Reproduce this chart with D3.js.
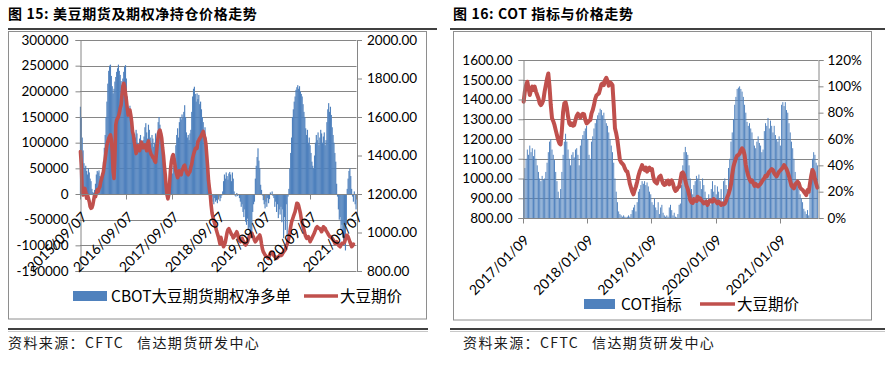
<!DOCTYPE html>
<html><head><meta charset="utf-8">
<script src="https://cdn.jsdelivr.net/npm/d3@7"></script>
<style>
body{margin:0;background:#fff;}
svg{display:block;}
</style></head>
<body>
<svg id="c" width="885" height="365"></svg>
<script>
// ---------------- DATA ----------------
// Chart 15 (left): weekly, from 2015/09/07
const leftTickLabels = ["2015/09/07","2016/09/07","2017/09/07","2018/09/07","2019/09/07","2020/09/07","2021/09/07"];
const leftNetLongK = [
170,150,110,85,60,50,55,45,38,50,42,30,25,
10,4,2,8,20,38,45,42,46,35,28,40,50,
63,90,115,150,180,215,240,250,252,230,210,196,205,
219,228,238,245,252,240,232,220,212,225,238,248,251,
225,190,168,150,172,160,130,120,105,95,110,125,118,
100,92,108,115,96,88,105,112,130,138,120,108,135,
125,110,98,115,108,92,100,118,104,120,140,150,135,
118,110,95,88,76,50,35,20,12,18,30,55,62,
40,55,48,70,95,115,128,110,
140,150,145,155,148,160,173,150,120,110,115,105,118,125,
160,190,205,209,195,180,196,185,193,175,180,165,150,140,120,130,110,95,60,20,
-3,-8,-12,-5,-15,-20,
-8,-15,-12,-18,-10,-5,-14,-8,-3,5,
25,38,30,42,35,28,40,43,38,25,
42,30,5,-3,-5,2,-4,-2,-8,-15,
-25,-20,-35,-45,-30,-54,-60,-48,-70,-65,
-80,-86,-75,-35,-20,-15,30,55,72,89,
65,50,18,8,-3,-12,-20,-28,-15,-25,
-8,-18,-10,3,-2,5,-4,-8,-25,-15,
-35,-20,-47,-30,-40,-25,-55,-30,-86,-45,
-70,-20,-82,-5,10,50,80,110,150,165,
180,190,203,208,212,205,210,200,195,190,
175,160,150,128,115,125,100,110,95,80,
63,55,50,75,100,115,105,120,95,110,
125,118,100,112,120,95,105,140,165,177,
160,170,154,130,115,100,80,63,20,-5,
-30,-50,-45,-70,-60,-85,-100,-90,-110,-60,
10,30,45,50,35,10,-5,-15,5,-20,-30
];
const leftNetLong = leftNetLongK.map(v => v * 1000);
const leftPrice = [
1420,1351,1212,1195,1212,1229,1212,1178,1195,1178,
1160,1134,1126,1129,1143,1169,1195,1186,1204,1221,
1212,1229,1238,1264,1281,1299,1316,1351,1385,1420,
1455,1472,1489,1498,1507,1481,1420,1316,1281,1385,
1558,1584,1593,1602,1619,1645,1662,1714,1758,1775,
1758,1723,1688,1645,1610,1619,1636,1610,1576,1524,
1506,1470,1440,1410,1425,1450,1440,1425,1445,1470,
1455,1440,1450,1455,1440,1425,1460,1475,1440,1420,
1405,1400,1390,1385,1372,1365,1410,1460,1500,1525,
1532,1515,1490,1440,1400,1345,1300,1240,1195,1175,
1195,1260,1330,1370,1395,1405,1380,1350,1320,1300,
1285,1300,1320,1305,1300,1320,1333,1345,1350,1330,
1316,1305,1300,1310,1316,1340,1355,1385,1405,1420,
1435,1440,1437,1472,1480,1489,1495,1506,1515,1525,
1505,1490,1460,1400,1340,1270,1230,1195,1140,1100,
1080,1062,1045,1030,1010,995,980,960,940,
975,955,940,926,935,950,975,1000,1015,1020,
1010,1000,990,985,972,978,987,995,1004,990,
970,958,952,965,970,958,950,940,935,942,
950,965,978,987,992,996,985,975,960,952,
958,965,975,980,987,970,940,915,900,892,
883,878,874,870,866,880,892,898,895,888,
880,875,872,866,870,874,878,883,880,883,
892,900,905,912,928,940,955,975,1000,1030,
1055,1068,1082,1095,1108,1130,1152,1150,1140,1120,
1100,1070,1050,1030,1015,995,980,970,975,978,
965,952,962,970,980,990,1000,1013,1025,1030,
1025,1022,1020,1012,1004,1015,1030,1026,1022,1010,
1004,995,987,980,978,972,970,962,955,944,
948,952,945,935,930,926,935,944,944,944,
950,965,985,985,978,965,952,940,926,930,940
];
const leftBarTicks = [-150000,-100000,-50000,0,50000,100000,150000,200000,250000,300000];
const leftLineTicks = [800,1000,1200,1400,1600,1800,2000];

// Chart 16 (right): weekly, from 2017/01/09
const rightTickLabels = ["2017/01/09","2018/01/09","2019/01/09","2020/01/09","2021/01/09"];
const rightPrice = [
1389,1440,1473,1490,1457,1423,1448,1465,1448,1465,
1440,1423,1406,1381,1372,1381,1397,1440,1473,1507,
1532,1465,1372,1305,1290,1271,1245,1220,1195,1178,
1173,1245,1338,1381,1386,1358,1313,1279,1271,1279,
1267,1271,1296,1318,1328,1318,1308,1322,1328,1325,
1296,1279,1284,1291,1296,1330,1347,1372,1403,1420,
1426,1431,1453,1477,1482,1473,1499,1510,1494,1470,
1487,1482,1473,1372,1254,1229,1195,1144,1094,1082,
1075,1068,1051,1038,1035,1009,975,954,933,920,
942,959,984,1014,1035,1051,1068,1048,1043,1055,
1035,1048,1055,1043,1048,1009,987,980,975,997,
1009,1014,992,975,967,970,987,990,970,980,
990,975,950,937,942,954,959,992,1026,1031,
1018,990,963,947,920,891,879,876,896,889,
886,908,894,900,889,883,874,879,883,866,
879,889,888,883,896,889,883,874,883,876,
866,874,869,872,886,906,920,942,970,1021,
1060,1082,1102,1116,1119,1127,1143,1153,1144,1119,
1068,1038,1014,997,984,990,977,963,973,963,
960,967,973,984,994,1001,1014,1011,1024,1035,
1041,1048,1043,1026,1018,1011,1024,1035,1041,1048,
1055,1068,1058,1048,1031,1011,987,963,957,950,
970,977,984,975,954,947,942,933,925,916,
942,933,975,1014,1043,1031,997,975,954
];
const rightCot = [
30,38,45,52,48,55,50,53,47,52,
45,40,35,30,28,32,29,30,35,42,
50,58,60,52,48,44,35,28,20,15,
22,35,48,58,64,58,52,45,40,48,
50,46,52,53,48,40,55,60,63,66,
68,70,60,48,45,58,62,68,72,75,
78,80,83,82,78,80,75,72,70,65,
60,55,50,42,30,20,12,5,3,2,
1,2,1,0.5,1,2,1,3,6,8,
10,5,12,20,22,25,28,26,28,25,
27,24,20,18,12,10,15,8,6,12,
3,8,10,4,2,1,2,1,8,10,
6,2,4,1,0.5,3,10,11,25,40,
50,54,50,48,40,30,22,18,25,28,
32,30,33,28,22,30,25,20,15,12,
18,10,22,28,20,25,18,24,20,15,
22,12,28,30,25,22,38,45,58,65,
75,86,92,98,99,100,98,96,92,86,
80,73,70,72,68,65,60,55,53,58,
62,57,55,50,52,66,72,70,76,68,
74,70,65,70,63,60,58,62,55,86,
88,85,88,82,80,72,65,58,53,45,
35,28,25,22,18,15,12,7,5,3,
6,2,20,38,45,50,48,42,40
];
const rightLineTicks = [800,900,1000,1100,1200,1300,1400,1500,1600];
const rightBarTicks = [0,20,40,60,80,100,120];

const titles = ["图 15: 美豆期货及期权净持仓价格走势", "图 16: COT 指标与价格走势"];
const legendBar = ["CBOT大豆期货期权净多单", "COT指标"];
const legendLine = "大豆期价";
const footerA = "资料来源：CFTC";
const footerB = "信达期货研发中心";
const labelEvery = 52;

// ---------------- DRAW ----------------
const BLUE = "#4F81BD", RED = "#C0504D", GRID = "#868686", BORDER = "#8e8e8e";
const NUMF = "Lato, 'Liberation Sans', sans-serif";
const CJK = "'Noto Sans CJK SC', sans-serif";
const svg = d3.select("#c");

function frame(o) {
  svg.append("text").attr("x", o.tx).attr("y", 19)
    .attr("font-family", CJK).attr("font-weight", 700).attr("font-size", 14)
    .attr("letter-spacing", 0.6).attr("fill", "#000").text(o.title);
  svg.append("line").attr("x1", o.lx0).attr("x2", o.lx1).attr("y1", 29).attr("y2", 29)
    .attr("stroke", "#000").attr("stroke-width", 1.5);
  svg.append("rect").attr("x", o.bx0 + 0.5).attr("y", 31.5)
    .attr("width", o.bx1 - o.bx0).attr("height", o.by1 - 31.5)
    .attr("fill", "none").attr("stroke", BORDER).attr("stroke-width", 1);
  svg.append("line").attr("x1", o.lx0).attr("x2", o.fx1).attr("y1", 329).attr("y2", 329)
    .attr("stroke", "#000").attr("stroke-width", 1.5);
  svg.append("line").attr("x1", o.lx0).attr("x2", o.fx1).attr("y1", 331.5).attr("y2", 331.5)
    .attr("stroke", "#c8c8c8").attr("stroke-width", 1.2);
  const ft = svg.append("text").attr("y", 348).attr("font-family", CJK)
    .attr("font-size", 14).attr("letter-spacing", 1.4).attr("fill", "#1a1a1a");
  ft.append("tspan").attr("x", o.ftx).text(footerA);
  ft.append("tspan").attr("x", o.ftx + 129).text(footerB);
}

function styleAxis(g) {
  g.select(".domain").attr("stroke", GRID);
  g.selectAll(".tick line").attr("stroke", GRID);
  g.selectAll(".tick text").attr("font-family", NUMF).attr("font-size", 13.5).attr("fill", "#000");
}

function chart(o) {
  const n = o.bars.length;
  const x = d3.scaleLinear().domain([0, n]).range([o.x0, o.x1]);
  const step = x(1) - x(0);
  // gridlines
  svg.append("g").selectAll("line").data(o.gridTicks).join("line")
    .attr("x1", o.x0).attr("x2", o.x1)
    .attr("y1", d => Math.round(o.gridScale(d)) + 0.5).attr("y2", d => Math.round(o.gridScale(d)) + 0.5)
    .attr("stroke", GRID).attr("stroke-width", 1);
  // bars
  const y0 = o.barScale(0);
  svg.append("g").selectAll("rect").data(o.bars).join("rect")
    .attr("x", (d, i) => x(i) + step * (1 - o.barFrac) / 2)
    .attr("width", step * o.barFrac)
    .attr("y", d => Math.min(o.barScale(d), y0))
    .attr("height", d => Math.abs(o.barScale(d) - y0))
    .attr("fill", BLUE);
  // line
  const line = d3.line().x((d, i) => x(i + 0.5)).y(d => o.lineScale(d)).curve(d3.curveLinear);
  svg.append("path").datum(o.line).attr("d", line).attr("fill", "none")
    .attr("stroke", RED).attr("stroke-width", o.lineW).attr("stroke-linejoin", "round").attr("stroke-linecap", "round");
  // axes
  const gl = svg.append("g").attr("transform", `translate(${o.x0 + 0.5},0)`)
    .call(d3.axisLeft(o.leftScale).tickValues(o.leftTicks).tickFormat(o.leftFmt).tickSizeOuter(0).tickSize(5).tickPadding(o.padL));
  styleAxis(gl);
  const gr = svg.append("g").attr("transform", `translate(${o.x1 + 0.5},0)`)
    .call(d3.axisRight(o.rightScale).tickValues(o.rightTicks).tickFormat(o.rightFmt).tickSizeOuter(0).tickSize(5).tickPadding(o.padR));
  styleAxis(gr);
  // category axis
  const ay = Math.round(o.axisY) + 0.5;
  svg.append("line").attr("x1", o.x0).attr("x2", o.x1).attr("y1", ay).attr("y2", ay).attr("stroke", GRID);
  const lab = o.labels.map((t, k) => ({ t, i: k * labelEvery }));
  svg.append("g").selectAll("line").data(lab).join("line")
    .attr("x1", d => Math.round(x(d.i)) + 0.5).attr("x2", d => Math.round(x(d.i)) + 0.5)
    .attr("y1", ay).attr("y2", ay + 5).attr("stroke", GRID);
  svg.append("g").selectAll("text").data(lab).join("text")
    .attr("transform", d => `translate(${x(d.i) + o.ldx},${o.axisY + o.ldy}) rotate(-45)`)
    .attr("text-anchor", "end").attr("font-family", NUMF).attr("font-size", 14).attr("fill", "#000")
    .text(d => d.t);
}

function legend(o) {
  svg.append("rect").attr("x", o.rx).attr("y", o.cy - 5).attr("width", o.rw).attr("height", 10).attr("fill", BLUE);
  svg.append("text").attr("x", o.tx).attr("y", o.cy).attr("dy", "0.36em")
    .attr("font-family", CJK).attr("font-size", 15.5).attr("fill", "#000").text(o.barLabel);
  svg.append("line").attr("x1", o.lx).attr("x2", o.lx + o.lw).attr("y1", o.cy).attr("y2", o.cy)
    .attr("stroke", RED).attr("stroke-width", 3.5);
  svg.append("text").attr("x", o.lx + o.lw + 2).attr("y", o.cy).attr("dy", "0.36em")
    .attr("font-family", CJK).attr("font-size", 15.5).attr("fill", "#000").text(legendLine);
}

// ---- Left chart ----
frame({ title: titles[0], tx: 8, lx0: 8, lx1: 437, bx0: 8, bx1: 426, by1: 319, fx1: 428, ftx: 8 });
{
  const yB = d3.scaleLinear().domain([-150000, 300000]).range([271, 40]);
  const yL = d3.scaleLinear().domain([800, 2000]).range([271, 40]);
  chart({
    x0: 80, x1: 356.5, bars: leftNetLong, line: leftPrice, barFrac: 1.3, lineW: 3.6,
    barScale: yB, lineScale: yL, gridScale: yB, gridTicks: leftBarTicks,
    leftScale: yB, leftTicks: leftBarTicks, leftFmt: d => String(d), padL: 7,
    rightScale: yL, rightTicks: leftLineTicks, rightFmt: d => d.toFixed(2), padR: 5,
    axisY: yB(0), labels: leftTickLabels, ldx: 8, ldy: 24
  });
  legend({ rx: 73, rw: 34, cy: 296, tx: 111, barLabel: legendBar[0], lx: 304, lw: 34 });
}

// ---- Right chart ----
frame({ title: titles[1], tx: 453, lx0: 450, lx1: 885, bx0: 453, bx1: 871, by1: 320, fx1: 885, ftx: 463 });
{
  const yL = d3.scaleLinear().domain([800, 1600]).range([218, 60]);
  const yB = d3.scaleLinear().domain([0, 120]).range([218, 60]);
  chart({
    x0: 523, x1: 818, bars: rightCot, line: rightPrice, barFrac: 0.78, lineW: 4,
    barScale: yB, lineScale: yL, gridScale: yL, gridTicks: rightLineTicks,
    leftScale: yL, leftTicks: rightLineTicks, leftFmt: d => d.toFixed(2), padL: 6,
    rightScale: yB, rightTicks: rightBarTicks, rightFmt: d => d + "%", padR: 4,
    axisY: 218, labels: rightTickLabels, ldx: 7, ldy: 23
  });
  legend({ rx: 584, rw: 31, cy: 304, tx: 621, barLabel: legendBar[1], lx: 700, lw: 35 });
}
</script>
</body></html>
